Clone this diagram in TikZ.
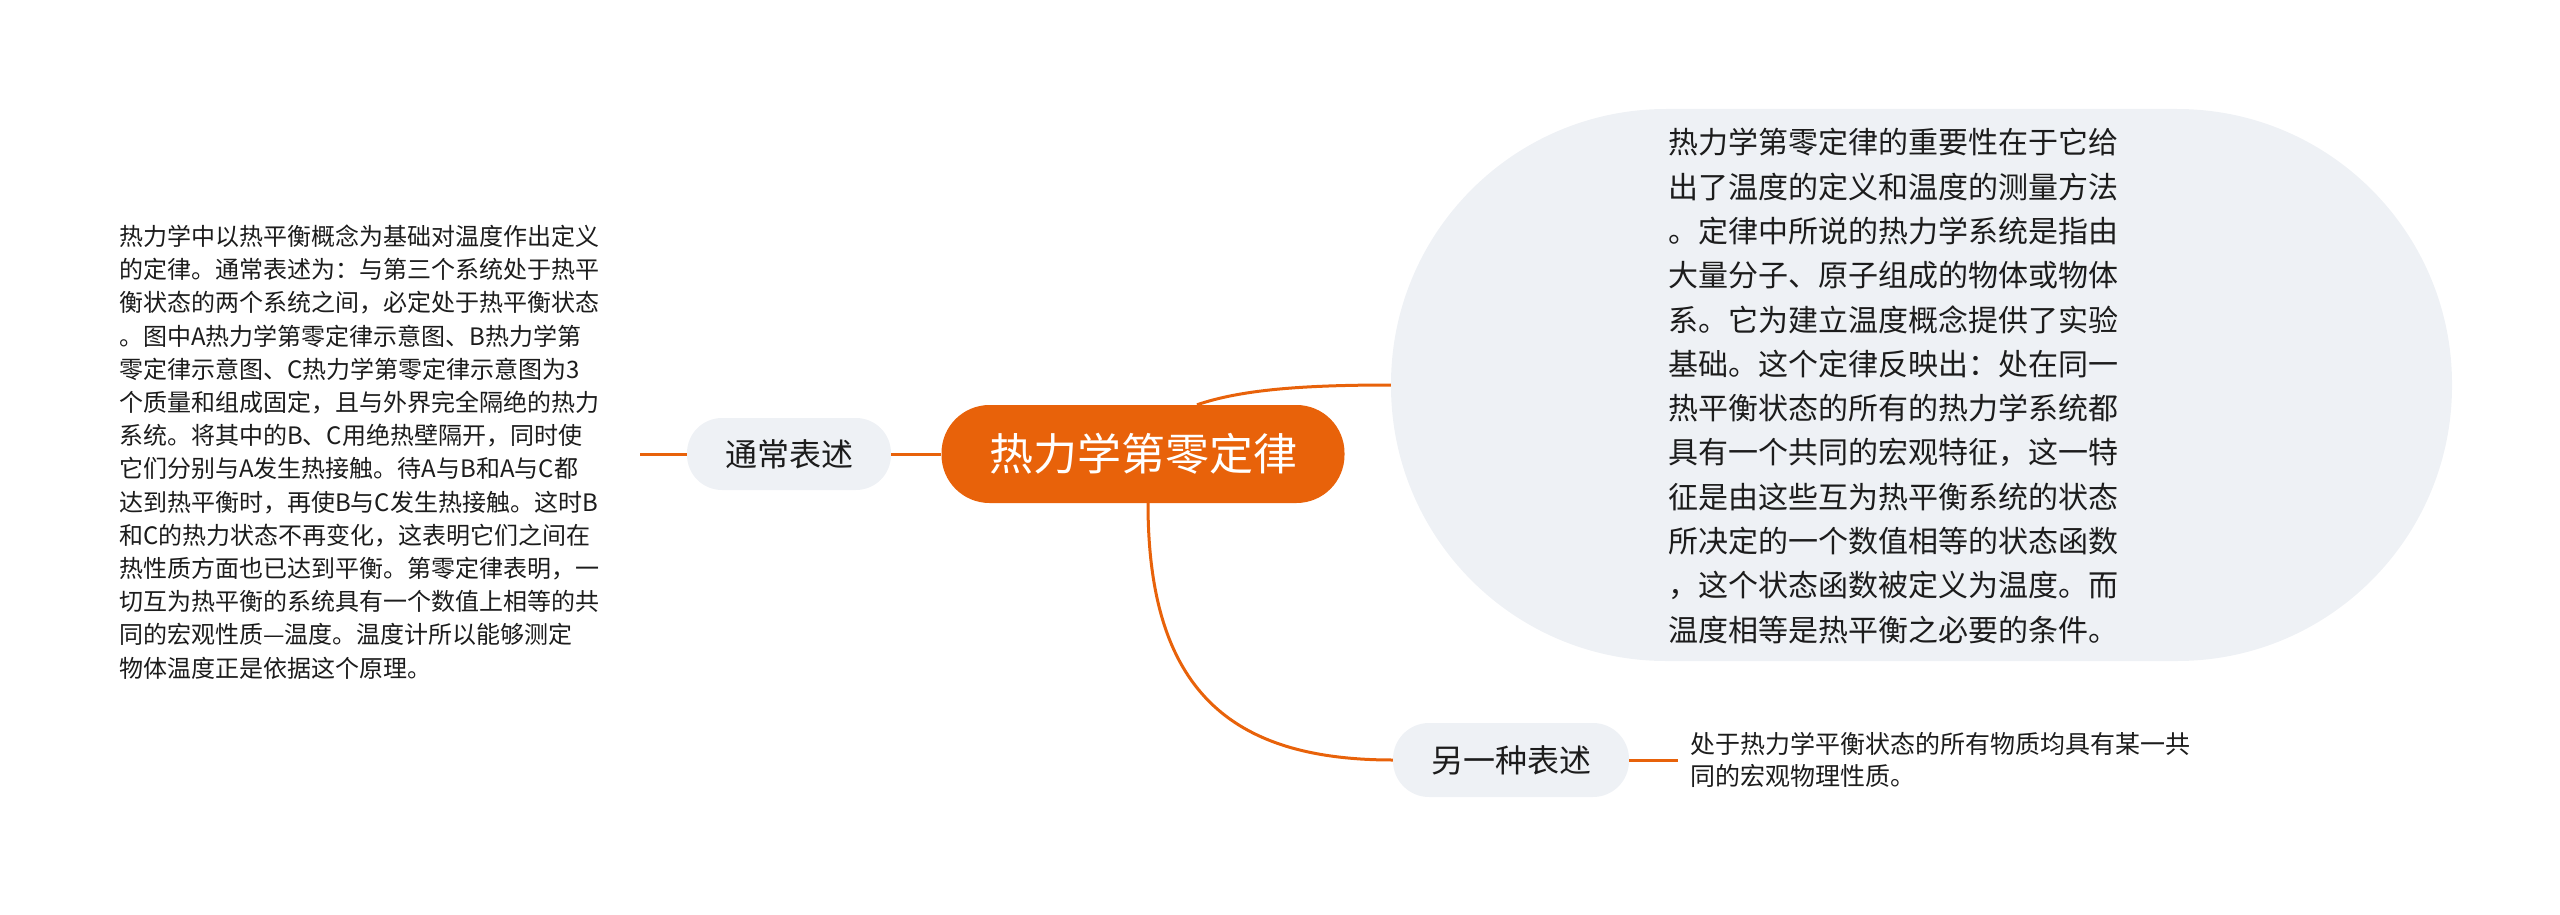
\documentclass[tikz,border=0pt]{standalone}
\usepackage{fontspec}
\setmainfont{Noto Sans CJK SC}
\definecolor{orangeM}{RGB}{232,98,10}
\definecolor{grayM}{RGB}{238,241,245}
\definecolor{txtM}{RGB}{28,28,28}
\begin{document}
\begin{tikzpicture}[x=1pt,y=-1pt,
  conn/.style={draw=orangeM,line width=3pt},
  topic/.style={fill=grayM, minimum height=72pt, inner sep=0pt, font=\fontsize{32}{38}\selectfont, text=txtM},
  body/.style={inner sep=0pt, align=left, text=txtM, anchor=west}]
\useasboundingbox (0,0) rectangle (2560,915);
\node[fill=orangeM, rounded corners=48pt, minimum width=403pt, minimum height=98pt, text=white, font=\fontsize{44}{52}\selectfont, inner sep=0pt] (root) at (1143,454) {热力学第零定律};
\node[topic, rounded corners=35pt, minimum width=204pt] (t1) at (789,454) {通常表述};
\node[topic, rounded corners=36pt, minimum width=236pt, minimum height=74pt] (t2) at (1511,760) {另一种表述};
\node[fill=grayM, rounded corners=275pt, minimum width=1061pt, minimum height=552pt, inner sep=0pt] (detail) at (1921.5,385) {};
\coordinate (c1) at (640,454);
\coordinate (c2) at (1678,760);
\draw[conn] (root.west) -- (t1.east);
\draw[conn] (t1.west) -- (c1);
\draw[conn] ([xshift=54pt]root.north) .. controls (1240,390) and (1300,385) .. (detail.west);
\draw[conn] ([xshift=5pt]root.south) .. controls (1148,690) and (1230,760) .. (t2.west);
\draw[conn] (t2.east) -- (c2);
\node[body, font=\fontsize{24}{33.2}\selectfont] (lt) at (119,452) {热力学中以热平衡概念为基础对温度作出定义\\的定律。通常表述为：与第三个系统处于热平\\衡状态的两个系统之间，必定处于热平衡状态\\。图中A热力学第零定律示意图、B热力学第\\零定律示意图、C热力学第零定律示意图为3\\个质量和组成固定，且与外界完全隔绝的热力\\系统。将其中的B、C用绝热壁隔开，同时使\\它们分别与A发生热接触。待A与B和A与C都\\达到热平衡时，再使B与C发生热接触。这时B\\和C的热力状态不再变化，这表明它们之间在\\热性质方面也已达到平衡。第零定律表明，一\\切互为热平衡的系统具有一个数值上相等的共\\同的宏观性质—温度。温度计所以能够测定\\物体温度正是依据这个原理。};
\node[body, font=\fontsize{30}{44.3}\selectfont] (rt) at (1668,386) {热力学第零定律的重要性在于它给\\出了温度的定义和温度的测量方法\\。定律中所说的热力学系统是指由\\大量分子、原子组成的物体或物体\\系。它为建立温度概念提供了实验\\基础。这个定律反映出：处在同一\\热平衡状态的所有的热力学系统都\\具有一个共同的宏观特征，这一特\\征是由这些互为热平衡系统的状态\\所决定的一个数值相等的状态函数\\，这个状态函数被定义为温度。而\\温度相等是热平衡之必要的条件。};
\node[body, font=\fontsize{25}{32.7}\selectfont] (st) at (1690,760) {处于热力学平衡状态的所有物质均具有某一共\\同的宏观物理性质。};
\end{tikzpicture}
\end{document}
